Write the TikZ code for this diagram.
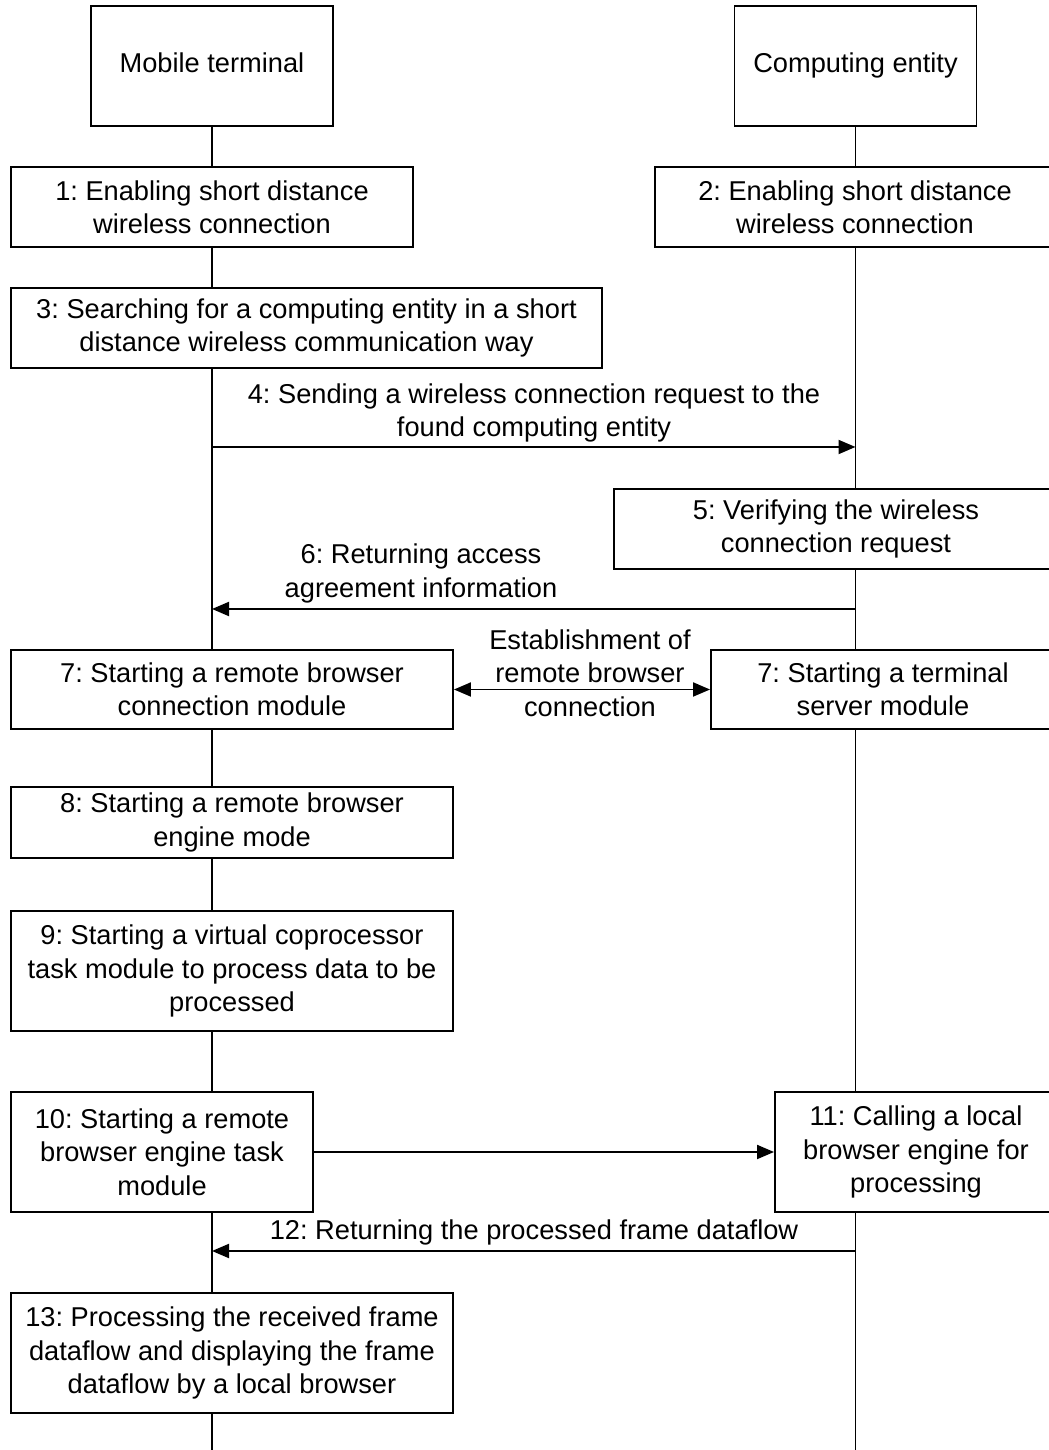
\documentclass[tikz,border=0pt]{standalone}
\usepackage{fontspec}
\setmainfont{Liberation Sans}
\usepackage{tikz}
\usetikzlibrary{arrows.meta}
\frenchspacing

\begin{document}
\begin{tikzpicture}[x=1cm,y=1cm,
  font=\fontsize{15.5}{19}\selectfont,
  stepbox/.style={draw,line width=1.1pt,align=center,inner sep=0pt,minimum height=1.60cm},
  entity/.style={stepbox,minimum width=4.84cm,minimum height=2.40cm,text height=0.72em,text depth=0pt},
  life/.style={line width=0.6pt},
  msg/.style={line width=1.1pt,-{Triangle[length=0.34cm,width=0.28cm]}},
  dmsg/.style={line width=1.1pt,{Triangle[length=0.34cm,width=0.28cm]}-{Triangle[length=0.34cm,width=0.28cm]}}]
\path[use as bounding box] (0,0) rectangle (20.98,29.00);
% entities
\node[entity] (mt) at (4.24,27.68) {Mobile terminal};
\node[entity] (ce) at (17.11,27.68) {Computing entity};
% steps, mobile terminal side
\node[stepbox,minimum width=8.04cm] (enable1) at (4.24,24.86) {1: Enabling short distance\\wireless connection};
\node[stepbox,minimum width=11.82cm] (search) at (6.13,22.44) {3: Searching for a computing entity in a short\\distance wireless communication way};
\node[stepbox,minimum width=8.84cm,minimum height=1.58cm] (rbconn) at (4.64,15.21) {7: Starting a remote browser\\connection module};
\node[stepbox,minimum width=8.84cm,minimum height=1.42cm] (rbengine) at (4.64,12.55) {8: Starting a remote browser\\engine mode};
\node[stepbox,minimum width=8.84cm,minimum height=2.40cm] (vcop) at (4.64,9.58) {9: Starting a virtual coprocessor\\task module to process data to be\\processed};
\node[stepbox,minimum width=6.04cm,minimum height=2.40cm] (rbtask) at (3.24,5.96) {10: Starting a remote\\browser engine task\\module};
\node[stepbox,minimum width=8.84cm,minimum height=2.40cm] (display) at (4.64,1.94) {13: Processing the received frame\\dataflow and displaying the frame\\dataflow by a local browser};
% steps, computing entity side
\node[stepbox,minimum width=8.00cm] (enable2) at (17.10,24.86) {2: Enabling short distance\\wireless connection};
\node[stepbox,minimum width=8.88cm] (verify) at (16.72,18.42) {5: Verifying the wireless\\connection request};
\node[stepbox,minimum width=6.88cm,minimum height=1.58cm] (tsrv) at (17.66,15.21) {7: Starting a terminal\\server module};
\node[stepbox,minimum width=5.64cm,minimum height=2.40cm] (localeng) at (18.32,5.96) {11: Calling a local\\browser engine for\\processing};
% lifelines
\coordinate (lend) at (4.24,0);
\coordinate (rend) at (17.11,0);
\draw[life] (mt.south) -- (enable1.north);
\draw[life] (enable1.south) -- (search.north -| mt.south);
\draw[life] (search.south -| mt.south) -- (rbconn.north -| mt.south);
\draw[life] (rbconn.south -| mt.south) -- (rbengine.north -| mt.south);
\draw[life] (rbengine.south -| mt.south) -- (vcop.north -| mt.south);
\draw[life] (vcop.south -| mt.south) -- (rbtask.north -| mt.south);
\draw[life] (rbtask.south -| mt.south) -- (display.north -| mt.south);
\draw[life] (display.south -| mt.south) -- (lend);
\draw[life] (ce.south) -- (enable2.north -| ce.south);
\draw[life] (enable2.south -| ce.south) -- (verify.north -| ce.south);
\draw[life] (verify.south -| ce.south) -- (tsrv.north -| ce.south);
\draw[life] (tsrv.south -| ce.south) -- (localeng.north -| ce.south);
\draw[life] (localeng.south -| ce.south) -- (rend);
% messages
\coordinate (req4a) at (4.24,20.06);
\coordinate (req4b) at (17.11,20.06);
\draw[msg] (req4a) -- (req4b);
\node[align=center] (req4) at (10.68,20.74) {4: Sending a wireless connection request to the\\found computing entity};
\coordinate (ret6a) at (17.11,16.82);
\coordinate (ret6b) at (4.24,16.82);
\draw[msg] (ret6a) -- (ret6b);
\node[align=center] (ret6) at (8.42,17.53) {6: Returning access\\agreement information};
\draw[dmsg] (rbconn.east) -- (tsrv.west);
\node[align=center] (estab) at (11.80,15.54) {Establishment of\\remote browser\\connection};
\draw[msg] (rbtask.east) -- (localeng.west);
\coordinate (ret12a) at (17.11,3.98);
\coordinate (ret12b) at (4.24,3.98);
\draw[msg] (ret12a) -- (ret12b);
\node (ret12) at (10.68,4.36) {12: Returning the processed frame dataflow};
\end{tikzpicture}
\end{document}
